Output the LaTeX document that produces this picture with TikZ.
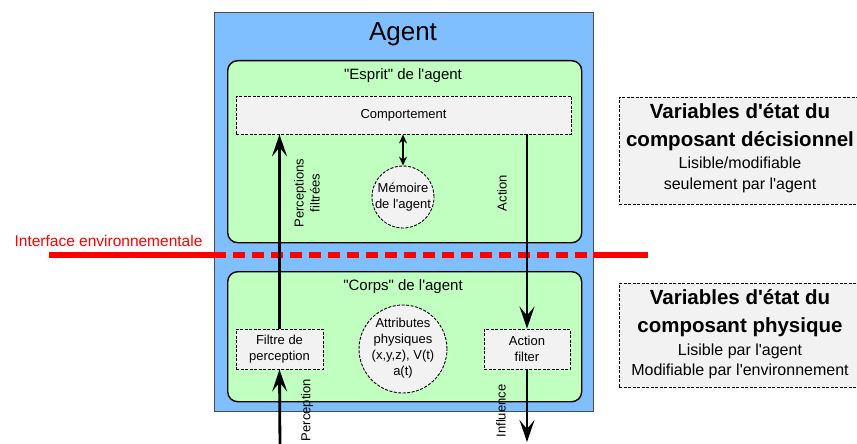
\documentclass[tikz,border=0pt]{standalone}
\usepackage{fontspec}
\setmainfont{Liberation Sans}[Ligatures=TeXOff]
\usetikzlibrary{arrows.meta}
\definecolor{agentblue}{HTML}{7FBFFF}
\definecolor{mindgreen}{HTML}{C0FFC0}
\definecolor{boxgray}{HTML}{F2F2F2}
\definecolor{ifred}{HTML}{FF0000}
\tikzset{
  panel/.style={draw=black, line width=1.4pt, fill=mindgreen, rounded corners=10pt, anchor=north west, inner sep=0pt},
  graybox/.style={draw=black, dash pattern=on 3pt off 1.5pt, line width=0.9pt, fill=boxgray, inner sep=0pt},
  txt/.style={inner sep=0pt, align=center},
  small/.style={txt, font=\fontsize{13}{16}\selectfont},
  bigarrow/.style={line width=2.8pt, -{Stealth[length=22pt,width=15pt,inset=9pt]}},
  memarrow/.style={line width=1.4pt, {Stealth[length=9pt,width=8pt,inset=3pt]}-{Stealth[length=9pt,width=8pt,inset=3pt]}},
}
\begin{document}
\begin{tikzpicture}[x=1pt,y=-1pt]
\useasboundingbox (0,0) rectangle (857,444);
\clip (0,0) rectangle (857,444);
% agent
\node[draw=black!70, line width=0.8pt, fill=agentblue, minimum width=379pt, minimum height=399pt, anchor=north west, inner sep=0pt] (agent) at (214,12) {};
\node[txt, font=\fontsize{26}{30}\selectfont] (agenttitle) at (403,34) {Agent};
% mind
\node[panel, minimum width=354pt, minimum height=182pt] (mind) at (227,60) {};
\node[txt, font=\fontsize{15}{18}\selectfont] (mindtitle) at (403,76) {"Esprit" de l'agent};
\node[graybox, minimum width=335pt, minimum height=38pt] (comp) at (403.5,115) {};
\node[small] (comptext) at (403.5,115) {Comportement};
\node[graybox, circle, minimum size=62pt] (mem) at (403,197) {};
\node[small] (memtext) at (403,197) {Mémoire\\de l'agent};
% body
\node[panel, minimum width=354pt, minimum height=130pt] (body) at (227,271) {};
\node[txt, font=\fontsize{15}{18}\selectfont] (bodytitle) at (403,287) {"Corps" de l'agent};
\node[graybox, minimum width=87pt, minimum height=40pt] (filtre) at (279.5,349) {};
\node[small] (filtretext) at (279.5,349) {Filtre de\\perception};
\node[graybox, minimum width=86pt, minimum height=40pt] (actf) at (527,349) {};
\node[small] (actftext) at (527,349) {Action\\filter};
\node[graybox, circle, minimum size=88pt] (attr) at (403,349) {};
\node[small] (attrtext) at (403,348) {Attributes\\physiques\\(x,y,z), V(t)\\a(t)};
% interface line
\coordinate (ifl) at (49,255);
\coordinate (ifa) at (214,255);
\coordinate (ifb) at (593,255);
\coordinate (ifr) at (648,255);
\draw[ifred, line width=6pt] (ifl) -- (ifa);
\draw[ifred, line width=6pt, dash pattern=on 12pt off 7pt] (ifa) -- (ifb);
\draw[ifred, line width=6pt] (ifb) -- (ifr);
\node[txt, text=ifred, font=\fontsize{15.5}{18}\selectfont] (iftext) at (108.5,241) {Interface environnementale};
% arrows
\coordinate (pin) at (280,450);
\coordinate (pout) at (527,442);
\draw[bigarrow] (pin) -- (filtre.south);
\draw[bigarrow] (filtre.north) -- (filtre.north |- comp.south);
\draw[bigarrow] (actf.north |- comp.south) -- (actf.north);
\draw[bigarrow] (actf.south) -- (pout);
\draw[memarrow] (comp.south -| mem.north) -- (mem.north);
% arrow labels
\node[small, rotate=90] (lpf) at (307,193) {Perceptions\\filtrées};
\node[small, rotate=90] (lact) at (502,193) {Action};
\node[small, rotate=90] (lperc) at (307,410) {Perception};
\node[small, rotate=90] (linf) at (501,411) {Influence};
% right boxes
\node[graybox, minimum width=242pt, minimum height=107pt, anchor=north west] (dec) at (619,97) {};
\node[txt, font=\fontsize{20.5}{28}\selectfont\bfseries] (dectitle) at (740,127) {Variables d'état du\\composant décisionnel};
\node[txt, font=\fontsize{16}{21}\selectfont] (decsub) at (740,175) {Lisible/modifiable\\seulement par l'agent};
\node[graybox, minimum width=242pt, minimum height=104pt, anchor=north west] (phy) at (619,283) {};
\node[txt, font=\fontsize{20.5}{28}\selectfont\bfseries] (phytitle) at (740,313) {Variables d'état du\\composant physique};
\node[txt, font=\fontsize{16}{20}\selectfont] (physub) at (740,361) {Lisible par l'agent\\Modifiable par l'environnement};
\end{tikzpicture}
\end{document}
